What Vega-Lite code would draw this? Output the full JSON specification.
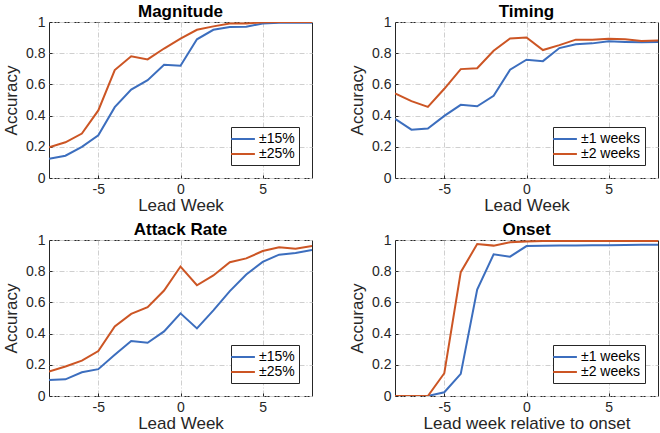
{
  "$schema": "https://vega.github.io/schema/vega-lite/v6.json",
  "background": "white",
  "padding": {"left": 2, "top": 2, "right": 2, "bottom": 0},
  "config": {
    "font": "Liberation Sans",
    "view": {"stroke": "#262626", "strokeWidth": 1},
    "title": {"fontSize": 17, "fontWeight": "bold", "color": "#000", "offset": -6, "frame": "group", "font": "Liberation Sans"},
    "axis": {
      "domain": false,
      "labelFontSize": 14,
      "labelColor": "#262626",
      "titleFontSize": 17,
      "titleFontWeight": "normal",
      "titleColor": "#262626",
      "tickSize": -3,
      "tickColor": "#262626",
      "labelPadding": 7,
      "gridColor": "#cfcfcf",
      "gridDash": [5, 2, 1, 2],
      "gridOpacity": 1
    },
    "axisX": {"titlePadding": 1, "labelPadding": 7},
    "axisY": {"titlePadding": 5},
    "legend": {
      "orient": "bottom-right",
      "offset": 13,
      "strokeColor": "#262626",
      "fillColor": "white",
      "padding": 4,
      "labelFontSize": 14,
      "labelColor": "#000",
      "symbolType": "M-1.7,0H1.7",
      "symbolSize": 196,
      "symbolStrokeWidth": 2,
      "rowPadding": 0,
      "labelOffset": 8,
      "title": null
    }
  },
  "data": {
    "values": [
      {"panel": "Magnitude", "series": "±15%", "week": -8, "acc": 0.124},
      {"panel": "Magnitude", "series": "±15%", "week": -7, "acc": 0.143},
      {"panel": "Magnitude", "series": "±15%", "week": -6, "acc": 0.2},
      {"panel": "Magnitude", "series": "±15%", "week": -5, "acc": 0.274},
      {"panel": "Magnitude", "series": "±15%", "week": -4, "acc": 0.454},
      {"panel": "Magnitude", "series": "±15%", "week": -3, "acc": 0.567},
      {"panel": "Magnitude", "series": "±15%", "week": -2, "acc": 0.627},
      {"panel": "Magnitude", "series": "±15%", "week": -1, "acc": 0.726},
      {"panel": "Magnitude", "series": "±15%", "week": 0, "acc": 0.72},
      {"panel": "Magnitude", "series": "±15%", "week": 1, "acc": 0.889},
      {"panel": "Magnitude", "series": "±15%", "week": 2, "acc": 0.95},
      {"panel": "Magnitude", "series": "±15%", "week": 3, "acc": 0.968},
      {"panel": "Magnitude", "series": "±15%", "week": 4, "acc": 0.97},
      {"panel": "Magnitude", "series": "±15%", "week": 5, "acc": 0.99},
      {"panel": "Magnitude", "series": "±15%", "week": 6, "acc": 0.995},
      {"panel": "Magnitude", "series": "±15%", "week": 7, "acc": 0.995},
      {"panel": "Magnitude", "series": "±15%", "week": 8, "acc": 0.995},
      {"panel": "Magnitude", "series": "±25%", "week": -8, "acc": 0.197},
      {"panel": "Magnitude", "series": "±25%", "week": -7, "acc": 0.229},
      {"panel": "Magnitude", "series": "±25%", "week": -6, "acc": 0.285},
      {"panel": "Magnitude", "series": "±25%", "week": -5, "acc": 0.433},
      {"panel": "Magnitude", "series": "±25%", "week": -4, "acc": 0.692},
      {"panel": "Magnitude", "series": "±25%", "week": -3, "acc": 0.78},
      {"panel": "Magnitude", "series": "±25%", "week": -2, "acc": 0.76},
      {"panel": "Magnitude", "series": "±25%", "week": -1, "acc": 0.83},
      {"panel": "Magnitude", "series": "±25%", "week": 0, "acc": 0.893},
      {"panel": "Magnitude", "series": "±25%", "week": 1, "acc": 0.95},
      {"panel": "Magnitude", "series": "±25%", "week": 2, "acc": 0.972},
      {"panel": "Magnitude", "series": "±25%", "week": 3, "acc": 0.99},
      {"panel": "Magnitude", "series": "±25%", "week": 4, "acc": 0.99},
      {"panel": "Magnitude", "series": "±25%", "week": 5, "acc": 0.998},
      {"panel": "Magnitude", "series": "±25%", "week": 6, "acc": 1.0},
      {"panel": "Magnitude", "series": "±25%", "week": 7, "acc": 1.0},
      {"panel": "Magnitude", "series": "±25%", "week": 8, "acc": 1.0},

      {"panel": "Timing", "series": "±1 weeks", "week": -8, "acc": 0.379},
      {"panel": "Timing", "series": "±1 weeks", "week": -7, "acc": 0.31},
      {"panel": "Timing", "series": "±1 weeks", "week": -6, "acc": 0.317},
      {"panel": "Timing", "series": "±1 weeks", "week": -5, "acc": 0.398},
      {"panel": "Timing", "series": "±1 weeks", "week": -4, "acc": 0.469},
      {"panel": "Timing", "series": "±1 weeks", "week": -3, "acc": 0.46},
      {"panel": "Timing", "series": "±1 weeks", "week": -2, "acc": 0.527},
      {"panel": "Timing", "series": "±1 weeks", "week": -1, "acc": 0.694},
      {"panel": "Timing", "series": "±1 weeks", "week": 0, "acc": 0.758},
      {"panel": "Timing", "series": "±1 weeks", "week": 1, "acc": 0.749},
      {"panel": "Timing", "series": "±1 weeks", "week": 2, "acc": 0.833},
      {"panel": "Timing", "series": "±1 weeks", "week": 3, "acc": 0.857},
      {"panel": "Timing", "series": "±1 weeks", "week": 4, "acc": 0.863},
      {"panel": "Timing", "series": "±1 weeks", "week": 5, "acc": 0.876},
      {"panel": "Timing", "series": "±1 weeks", "week": 6, "acc": 0.872},
      {"panel": "Timing", "series": "±1 weeks", "week": 7, "acc": 0.87},
      {"panel": "Timing", "series": "±1 weeks", "week": 8, "acc": 0.872},
      {"panel": "Timing", "series": "±2 weeks", "week": -8, "acc": 0.542},
      {"panel": "Timing", "series": "±2 weeks", "week": -7, "acc": 0.493},
      {"panel": "Timing", "series": "±2 weeks", "week": -6, "acc": 0.456},
      {"panel": "Timing", "series": "±2 weeks", "week": -5, "acc": 0.572},
      {"panel": "Timing", "series": "±2 weeks", "week": -4, "acc": 0.698},
      {"panel": "Timing", "series": "±2 weeks", "week": -3, "acc": 0.704},
      {"panel": "Timing", "series": "±2 weeks", "week": -2, "acc": 0.816},
      {"panel": "Timing", "series": "±2 weeks", "week": -1, "acc": 0.895},
      {"panel": "Timing", "series": "±2 weeks", "week": 0, "acc": 0.901},
      {"panel": "Timing", "series": "±2 weeks", "week": 1, "acc": 0.82},
      {"panel": "Timing", "series": "±2 weeks", "week": 2, "acc": 0.852},
      {"panel": "Timing", "series": "±2 weeks", "week": 3, "acc": 0.887},
      {"panel": "Timing", "series": "±2 weeks", "week": 4, "acc": 0.887},
      {"panel": "Timing", "series": "±2 weeks", "week": 5, "acc": 0.893},
      {"panel": "Timing", "series": "±2 weeks", "week": 6, "acc": 0.889},
      {"panel": "Timing", "series": "±2 weeks", "week": 7, "acc": 0.878},
      {"panel": "Timing", "series": "±2 weeks", "week": 8, "acc": 0.882},

      {"panel": "Attack Rate", "series": "±15%", "week": -8, "acc": 0.103},
      {"panel": "Attack Rate", "series": "±15%", "week": -7, "acc": 0.107},
      {"panel": "Attack Rate", "series": "±15%", "week": -6, "acc": 0.152},
      {"panel": "Attack Rate", "series": "±15%", "week": -5, "acc": 0.172},
      {"panel": "Attack Rate", "series": "±15%", "week": -4, "acc": 0.264},
      {"panel": "Attack Rate", "series": "±15%", "week": -3, "acc": 0.352},
      {"panel": "Attack Rate", "series": "±15%", "week": -2, "acc": 0.341},
      {"panel": "Attack Rate", "series": "±15%", "week": -1, "acc": 0.414},
      {"panel": "Attack Rate", "series": "±15%", "week": 0, "acc": 0.53},
      {"panel": "Attack Rate", "series": "±15%", "week": 1, "acc": 0.433},
      {"panel": "Attack Rate", "series": "±15%", "week": 2, "acc": 0.549},
      {"panel": "Attack Rate", "series": "±15%", "week": 3, "acc": 0.672},
      {"panel": "Attack Rate", "series": "±15%", "week": 4, "acc": 0.779},
      {"panel": "Attack Rate", "series": "±15%", "week": 5, "acc": 0.86},
      {"panel": "Attack Rate", "series": "±15%", "week": 6, "acc": 0.906},
      {"panel": "Attack Rate", "series": "±15%", "week": 7, "acc": 0.916},
      {"panel": "Attack Rate", "series": "±15%", "week": 8, "acc": 0.936},
      {"panel": "Attack Rate", "series": "±25%", "week": -8, "acc": 0.157},
      {"panel": "Attack Rate", "series": "±25%", "week": -7, "acc": 0.189},
      {"panel": "Attack Rate", "series": "±25%", "week": -6, "acc": 0.227},
      {"panel": "Attack Rate", "series": "±25%", "week": -5, "acc": 0.288},
      {"panel": "Attack Rate", "series": "±25%", "week": -4, "acc": 0.446},
      {"panel": "Attack Rate", "series": "±25%", "week": -3, "acc": 0.526},
      {"panel": "Attack Rate", "series": "±25%", "week": -2, "acc": 0.569},
      {"panel": "Attack Rate", "series": "±25%", "week": -1, "acc": 0.676},
      {"panel": "Attack Rate", "series": "±25%", "week": 0, "acc": 0.83},
      {"panel": "Attack Rate", "series": "±25%", "week": 1, "acc": 0.71},
      {"panel": "Attack Rate", "series": "±25%", "week": 2, "acc": 0.773},
      {"panel": "Attack Rate", "series": "±25%", "week": 3, "acc": 0.858},
      {"panel": "Attack Rate", "series": "±25%", "week": 4, "acc": 0.882},
      {"panel": "Attack Rate", "series": "±25%", "week": 5, "acc": 0.929},
      {"panel": "Attack Rate", "series": "±25%", "week": 6, "acc": 0.953},
      {"panel": "Attack Rate", "series": "±25%", "week": 7, "acc": 0.944},
      {"panel": "Attack Rate", "series": "±25%", "week": 8, "acc": 0.961},

      {"panel": "Onset", "series": "±1 weeks", "week": -8, "acc": 0.0},
      {"panel": "Onset", "series": "±1 weeks", "week": -7, "acc": 0.0},
      {"panel": "Onset", "series": "±1 weeks", "week": -6, "acc": 0.0},
      {"panel": "Onset", "series": "±1 weeks", "week": -5, "acc": 0.024},
      {"panel": "Onset", "series": "±1 weeks", "week": -4, "acc": 0.142},
      {"panel": "Onset", "series": "±1 weeks", "week": -3, "acc": 0.682},
      {"panel": "Onset", "series": "±1 weeks", "week": -2, "acc": 0.908},
      {"panel": "Onset", "series": "±1 weeks", "week": -1, "acc": 0.893},
      {"panel": "Onset", "series": "±1 weeks", "week": 0, "acc": 0.961},
      {"panel": "Onset", "series": "±1 weeks", "week": 1, "acc": 0.963},
      {"panel": "Onset", "series": "±1 weeks", "week": 2, "acc": 0.964},
      {"panel": "Onset", "series": "±1 weeks", "week": 3, "acc": 0.965},
      {"panel": "Onset", "series": "±1 weeks", "week": 4, "acc": 0.966},
      {"panel": "Onset", "series": "±1 weeks", "week": 5, "acc": 0.967},
      {"panel": "Onset", "series": "±1 weeks", "week": 6, "acc": 0.968},
      {"panel": "Onset", "series": "±1 weeks", "week": 7, "acc": 0.969},
      {"panel": "Onset", "series": "±1 weeks", "week": 8, "acc": 0.97},
      {"panel": "Onset", "series": "±2 weeks", "week": -8, "acc": 0.0},
      {"panel": "Onset", "series": "±2 weeks", "week": -7, "acc": 0.0},
      {"panel": "Onset", "series": "±2 weeks", "week": -6, "acc": 0.0},
      {"panel": "Onset", "series": "±2 weeks", "week": -5, "acc": 0.146},
      {"panel": "Onset", "series": "±2 weeks", "week": -4, "acc": 0.794},
      {"panel": "Onset", "series": "±2 weeks", "week": -3, "acc": 0.974},
      {"panel": "Onset", "series": "±2 weeks", "week": -2, "acc": 0.964},
      {"panel": "Onset", "series": "±2 weeks", "week": -1, "acc": 0.985},
      {"panel": "Onset", "series": "±2 weeks", "week": 0, "acc": 0.991},
      {"panel": "Onset", "series": "±2 weeks", "week": 1, "acc": 0.993},
      {"panel": "Onset", "series": "±2 weeks", "week": 2, "acc": 0.993},
      {"panel": "Onset", "series": "±2 weeks", "week": 3, "acc": 0.993},
      {"panel": "Onset", "series": "±2 weeks", "week": 4, "acc": 0.993},
      {"panel": "Onset", "series": "±2 weeks", "week": 5, "acc": 0.993},
      {"panel": "Onset", "series": "±2 weeks", "week": 6, "acc": 0.993},
      {"panel": "Onset", "series": "±2 weeks", "week": 7, "acc": 0.993},
      {"panel": "Onset", "series": "±2 weeks", "week": 8, "acc": 0.993}
    ]
  },
  "columns": 2,
  "bounds": "flush",
  "spacing": {"row": 62, "column": 83},
  "resolve": {"scale": {"color": "independent", "x": "independent", "y": "independent"}, "legend": {"color": "independent"}},
  "concat": [
    {
      "title": "Magnitude",
      "width": 263, "height": 156,
      "transform": [{"filter": "datum.panel === 'Magnitude'"}],
      "mark": {"type": "line", "strokeWidth": 2, "clip": true},
      "encoding": {
        "x": {"field": "week", "type": "quantitative", "scale": {"domain": [-8, 8], "nice": false}, "axis": {"values": [-5, 0, 5], "labelExpr": "'' + datum.value", "title": "Lead Week"}},
        "y": {"field": "acc", "type": "quantitative", "scale": {"domain": [0, 1], "nice": false}, "axis": {"values": [0, 0.2, 0.4, 0.6, 0.8, 1], "format": "~g", "title": "Accuracy"}},
        "color": {"field": "series", "type": "nominal", "scale": {"domain": ["±15%", "±25%"], "range": ["#3C6EBE", "#CC5524"]}}
      }
    },
    {
      "title": "Timing",
      "width": 263, "height": 156,
      "transform": [{"filter": "datum.panel === 'Timing'"}],
      "mark": {"type": "line", "strokeWidth": 2, "clip": true},
      "encoding": {
        "x": {"field": "week", "type": "quantitative", "scale": {"domain": [-8, 8], "nice": false}, "axis": {"values": [-5, 0, 5], "labelExpr": "'' + datum.value", "title": "Lead Week"}},
        "y": {"field": "acc", "type": "quantitative", "scale": {"domain": [0, 1], "nice": false}, "axis": {"values": [0, 0.2, 0.4, 0.6, 0.8, 1], "format": "~g", "title": "Accuracy"}},
        "color": {"field": "series", "type": "nominal", "scale": {"domain": ["±1 weeks", "±2 weeks"], "range": ["#3C6EBE", "#CC5524"]}}
      }
    },
    {
      "title": "Attack Rate",
      "width": 263, "height": 156,
      "transform": [{"filter": "datum.panel === 'Attack Rate'"}],
      "mark": {"type": "line", "strokeWidth": 2, "clip": true},
      "encoding": {
        "x": {"field": "week", "type": "quantitative", "scale": {"domain": [-8, 8], "nice": false}, "axis": {"values": [-5, 0, 5], "labelExpr": "'' + datum.value", "title": "Lead Week"}},
        "y": {"field": "acc", "type": "quantitative", "scale": {"domain": [0, 1], "nice": false}, "axis": {"values": [0, 0.2, 0.4, 0.6, 0.8, 1], "format": "~g", "title": "Accuracy"}},
        "color": {"field": "series", "type": "nominal", "scale": {"domain": ["±15%", "±25%"], "range": ["#3C6EBE", "#CC5524"]}}
      }
    },
    {
      "title": "Onset",
      "width": 263, "height": 156,
      "transform": [{"filter": "datum.panel === 'Onset'"}],
      "mark": {"type": "line", "strokeWidth": 2, "clip": true},
      "encoding": {
        "x": {"field": "week", "type": "quantitative", "scale": {"domain": [-8, 8], "nice": false}, "axis": {"values": [-5, 0, 5], "labelExpr": "'' + datum.value", "title": "Lead week relative to onset"}},
        "y": {"field": "acc", "type": "quantitative", "scale": {"domain": [0, 1], "nice": false}, "axis": {"values": [0, 0.2, 0.4, 0.6, 0.8, 1], "format": "~g", "title": "Accuracy"}},
        "color": {"field": "series", "type": "nominal", "scale": {"domain": ["±1 weeks", "±2 weeks"], "range": ["#3C6EBE", "#CC5524"]}}
      }
    }
  ]
}
